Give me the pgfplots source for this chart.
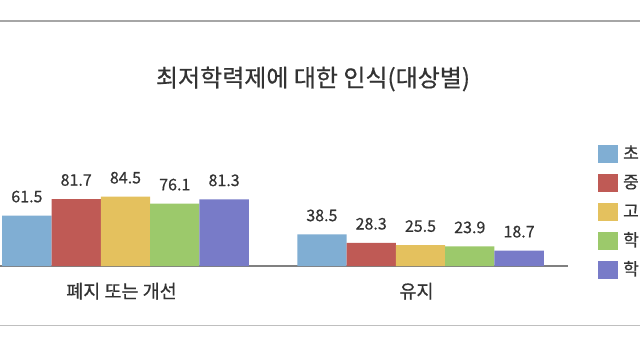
\documentclass[border=0pt]{standalone}
\usepackage{pgfplots}
\pgfplotsset{compat=1.18}
\usepackage{fontspec}
\setmainfont{Noto Sans CJK KR}
\newfontfamily\semib[FakeBold=0.6]{Noto Sans CJK KR}
\definecolor{cA}{HTML}{80AED3}
\definecolor{cB}{HTML}{BF5A55}
\definecolor{cC}{HTML}{E4C15E}
\definecolor{cD}{HTML}{9CC96B}
\definecolor{cE}{HTML}{787BC8}
\definecolor{txt}{HTML}{333333}
\begin{document}
\begin{tikzpicture}[x=1pt,y=1pt]
\path[use as bounding box] (0,0) rectangle (640,360);
\clip (0,0) rectangle (640,360);
\draw[black!35, line width=2.5pt] (0,339) -- (640,339);
\draw[black!25, line width=1pt] (0,35) -- (640,35);
\node[text=txt, font=\semib\fontsize{24}{28}\selectfont] at (313,281) {최저학력제에 대한 인식(대상별)};
\begin{axis}[
  at={(-22pt,94pt)}, anchor=south west,
  scale only axis, width=590pt, height=82pt,
  xmin=-0.5, xmax=1.5, ymin=0, ymax=100,
  clip=false,
  ybar=0pt, bar width=49.3pt,
  axis x line=bottom, axis y line=none,
  axis line style={draw=black!50, line width=2pt, -},
  xtick={0,1}, xticklabels={폐지 또는 개선, 유지},
  xtick style={draw=none},
  xticklabel style={text=txt, font=\semib\fontsize{18.5}{22}\selectfont, anchor=center, yshift=-23pt, xshift=-4pt},
  /pgf/number format/assume math mode=true,
  nodes near coords={\pgfmathprintnumber[fixed,precision=1,fixed zerofill]{\pgfplotspointmeta}},
  every node near coord/.append style={text=txt, font=\semib\fontsize{16}{19}\selectfont, anchor=center, yshift=19pt},
  legend image code/.code={\fill[#1] (0pt,-9pt) rectangle (20pt,9pt);},
  legend style={at={(axis description cs:1.0508,1.476)}, anchor=north west, draw=none, fill=none,
    inner sep=0pt, row sep=11pt, column sep=5pt,
    font=\semib\fontsize{17}{19}\selectfont, text=txt,
    nodes={inner sep=0pt, text height=14pt, text depth=4pt}},
  legend cell align=left,
]
\addplot[fill=cA, draw=none] coordinates {(0,61.5) (1,38.5)};
\addplot[fill=cB, draw=none] coordinates {(0,81.7) (1,28.3)};
\addplot[fill=cC, draw=none] coordinates {(0,84.5) (1,25.5)};
\addplot[fill=cD, draw=none] coordinates {(0,76.1) (1,23.9)};
\addplot[fill=cE, draw=none] coordinates {(0,81.3) (1,18.7)};
\legend{초, 중, 고, 학, 학}
\end{axis}
\end{tikzpicture}
\end{document}
